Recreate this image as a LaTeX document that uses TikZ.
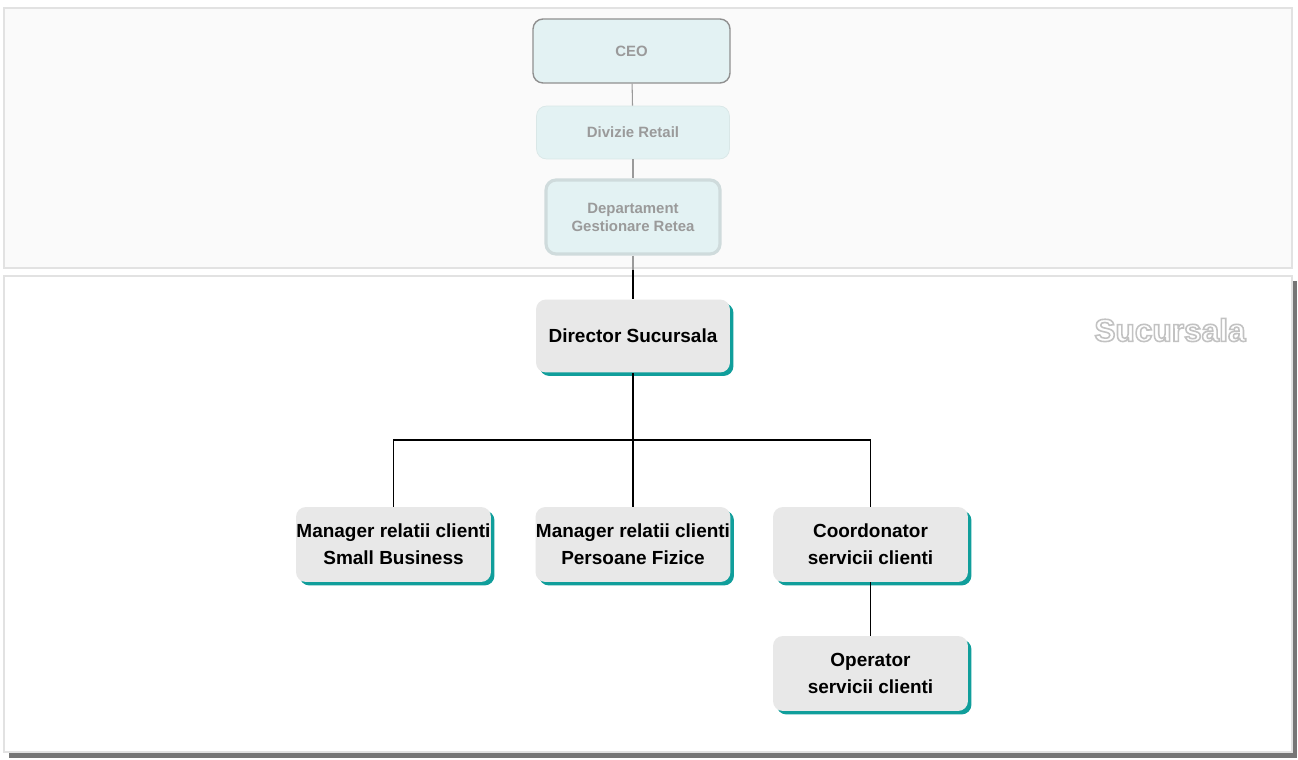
\documentclass[tikz,border=0pt]{standalone}
\usepackage{fontspec}
\setmainfont{Liberation Sans}
\usetikzlibrary{positioning,shadows}
\definecolor{boxfill}{HTML}{E8E8E8}
\definecolor{boxshadow}{HTML}{109E9B}
\definecolor{topfill}{HTML}{E3F2F3}
\definecolor{toptext}{HTML}{9A9A9A}
\definecolor{frameline}{HTML}{E2E2E2}
\definecolor{frameshadow}{HTML}{767676}
\newcommand{\outlined}[1]{\special{pdf:literal direct 2 Tr 0.9 w 0.76 G}#1\special{pdf:literal direct 0 Tr 0 G}}
\tikzset{%
  unit/.style = {rounded corners=0.2cm,fill=boxfill,minimum width=3.9cm,
        minimum height=1.5cm,inner sep=0pt,align=center,
        font=\fontsize{10.8}{15.5}\selectfont\bfseries,
        drop shadow={shadow xshift=0.07cm,shadow yshift=-0.07cm,
        fill=boxshadow,opacity=1}},
  upper/.style = {rounded corners=0.2cm,fill=topfill,text=toptext,
        inner sep=0pt,align=center,
        font=\fontsize{8.5}{10.2}\selectfont\bfseries},
  link/.style = {draw,line width=0.9pt},
  uplink/.style = {draw=toptext,line width=0.6pt}
}
\begin{document}
\begin{tikzpicture}[x=0.02cm,y=-0.02cm]
        \useasboundingbox (0,0) rectangle (1298,760);
        % frames
        \fill[frameshadow] (9,281) rectangle (1297,758);
        \draw[frameline,fill=white,line width=1pt] (4,276) rectangle (1292,752);
        \draw[frameline,fill=white!98!black,line width=1pt] (4,8) rectangle (1292,268);
        % frame label
        \node[text=white,font=\fontsize{18}{20}\selectfont\bfseries] (lbl) at (1170,330) {\outlined{Sucursala}};
        % upper levels
        \node[upper,draw=toptext!110,line width=0.8pt,minimum width=3.94cm,minimum height=1.28cm] (ceo) at (631.5,51) {CEO};
        \node[upper,draw=topfill!90!gray,line width=0.4pt,minimum width=3.86cm,minimum height=1.06cm] (div) at (633,132.5) {Divizie Retail};
        \node[upper,draw=topfill!80!gray,line width=1.8pt,minimum width=3.48cm,minimum height=1.48cm] (dep) at (633,217) {Departament\\Gestionare Retea};
        % branch units
        \node[unit,minimum width=3.88cm,minimum height=1.46cm] (dir) at (633,336) {Director Sucursala};
        \node[unit] (msb) at (393.5,544.5) {Manager relatii clienti\\Small Business};
        \node[unit] (mpf) at (633,544.5) {Manager relatii clienti\\Persoane Fizice};
        \node[unit] (cso) at (870.5,544.5) {Coordonator\\servicii clienti};
        \node[unit] (opr) at (870.5,673.5) {Operator\\servicii clienti};
        % links
        \coordinate (cut) at (633,270);
        \coordinate (bar) at (633,440);
        \draw[uplink] (ceo) -- (div);
        \draw[uplink] (div) -- (dep);
        \draw[uplink] (dep) -- (cut);
        \draw[link] (cut) -- (dir);
        \draw[link] (dir) -- (mpf);
        \draw[link] (msb) |- (bar) -| (cso);
        \draw[link] (cso) -- (opr);
\end{tikzpicture}
\end{document}
